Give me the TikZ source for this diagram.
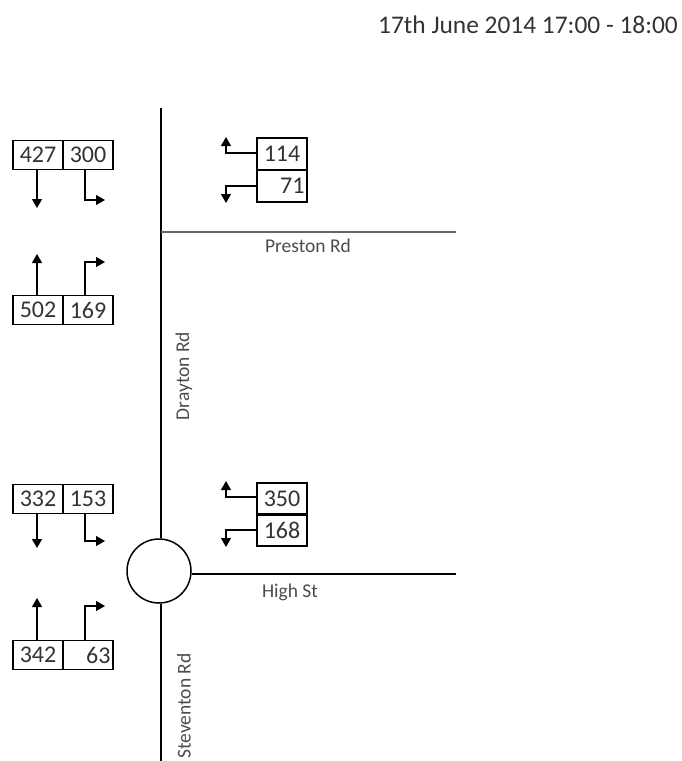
\documentclass[tikz,border=0pt]{standalone}
\usepackage{fontspec}
\setmainfont{Carlito}
\usetikzlibrary{arrows.meta}
\tikzset{
  cnt/.style={draw, line width=1.5pt, minimum width=50pt, minimum height=29pt, inner sep=0pt, font=\fontsize{24}{26}\selectfont, text=black!80},
  cntr/.style={cnt, align=right, text width=45pt},
  cntv/.style={cnt, minimum height=32pt},
  flow/.style={line width=1.3pt, -{Triangle[width=10pt,length=9pt]}},
  road/.style={line width=2.4pt},
  rdname/.style={font=\fontsize{19.5}{22}\selectfont, text=black!70},
}
\begin{document}
\begin{tikzpicture}[x=1pt, y=-1pt]
\useasboundingbox (0,0) rectangle (681,761);

\node[font=\fontsize{25.4}{28}\selectfont, text=black!80, anchor=east, inner sep=0pt] (title) at (678,25){17th June 2014 17:00 - 18:00};

% roads
\node[circle, draw, line width=1.5pt, minimum size=64pt, inner sep=0pt] (rb) at (159,571){};
\coordinate (dtop) at (161,108);
\coordinate (sbot) at (161,761);
\coordinate (pend) at (456,232);
\coordinate (hend) at (456,574);
\draw[road](dtop) -- (rb.north -| dtop);
\draw[road](rb.south -| dtop) -- (sbot);
\draw[line width=1.5pt, black!60](161,232) -- (pend);
\draw[road](rb.east |- hend) -- (hend);

\node[rdname] (prd) at (308,246){Preston Rd};
\node[rdname] (hst) at (290,592){High St};
\node[rdname, rotate=90] (drd) at (184,376){Drayton Rd};
\node[rdname, rotate=90] (srd) at (184,706){Steventon Rd};

% north arm, left side
\node[cnt] (c0) at (38,155){427};
\node[cnt] (c1) at (88,155){300};
\coordinate (c0t) at (37,208);
\coordinate (c1k) at (85,200);
\coordinate (c1t) at (105,200);
\draw[flow](c0.south -| c0t) -- (c0t);
\draw[flow](c1.south -| c1k) -- (c1k) -- (c1t);

\node[cnt] (c2) at (38,310){502};
\node[cnt] (c3) at (88,310){169};
\coordinate (c2t) at (37,254);
\coordinate (c3k) at (85,262);
\coordinate (c3t) at (105,262);
\draw[flow](c2.north -| c2t) -- (c2t);
\draw[flow](c3.north -| c3k) -- (c3k) -- (c3t);

% Preston Rd
\node[cntv] (c4) at (282,154){114};
\node[cntv, align=right, text width=45pt] (c5) at (282,186){71};
\coordinate (c4k) at (226,153);
\coordinate (c4t) at (226,137);
\coordinate (c5k) at (226,186);
\coordinate (c5t) at (226,203);
\draw[flow](c4.west |- c4k) -- (c4k) -- (c4t);
\draw[flow](c5.west) -- (c5k) -- (c5t);

% south side, left
\node[cnt] (c6) at (38,499){332};
\node[cnt] (c7) at (88,499){153};
\coordinate (c6t) at (37,548);
\coordinate (c7k) at (85,541);
\coordinate (c7t) at (105,541);
\draw[flow](c6.south -| c6t) -- (c6t);
\draw[flow](c7.south -| c7k) -- (c7k) -- (c7t);

\node[cnt] (c8) at (38,655){342};
\node[cntr] (c9) at (88,655){63};
\coordinate (c8t) at (37,598);
\coordinate (c9k) at (85,606);
\coordinate (c9t) at (105,606);
\draw[flow](c8.north -| c8t) -- (c8t);
\draw[flow](c9.north -| c9k) -- (c9k) -- (c9t);

% High St
\node[cntv] (c10) at (282,499){350};
\node[cntv] (c11) at (282,530){168};
\coordinate (c10k) at (226,497);
\coordinate (c10t) at (226,481);
\coordinate (c11k) at (226,530);
\coordinate (c11t) at (226,547);
\draw[flow](c10.west |- c10k) -- (c10k) -- (c10t);
\draw[flow](c11.west) -- (c11k) -- (c11t);

\end{tikzpicture}
\end{document}
